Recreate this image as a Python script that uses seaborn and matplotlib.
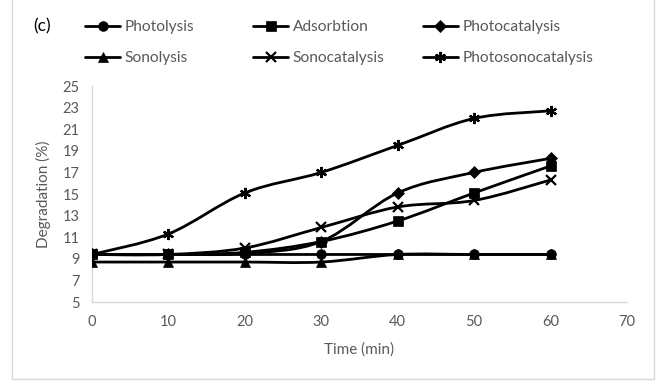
import matplotlib
matplotlib.use("Agg")
import matplotlib.pyplot as plt
import seaborn as sns
import pandas as pd
import numpy as np
from matplotlib.path import Path
from matplotlib.patches import PathPatch
from matplotlib.lines import Line2D

time = [0, 10, 20, 30, 40, 50, 60]
photolysis = [9.4, 9.4, 9.4, 9.4, 9.4, 9.4, 9.4]
adsorbtion = [9.4, 9.4, 9.6, 10.6, 12.5, 15.1, 17.6]
photocatalysis = [9.4, 9.4, 9.5, 10.6, 15.1, 17.0, 18.3]
sonolysis = [8.7, 8.7, 8.7, 8.7, 9.4, 9.4, 9.4]
sonocatalysis = [9.4, 9.4, 10.0, 11.9, 13.8, 14.4, 16.3]
photosonocatalysis = [9.4, 11.3, 15.1, 17.0, 19.5, 22.0, 22.7]

series = ["Photolysis", "Adsorbtion", "Photocatalysis",
          "Sonolysis", "Sonocatalysis", "Photosonocatalysis"]
values = [photolysis, adsorbtion, photocatalysis,
          sonolysis, sonocatalysis, photosonocatalysis]
markers = ["o", "s", "D", "^", "x", (6, 2, 0)]
msizes = [7, 7, 6, 7, 7, 8]

rows = []
for name, vals in zip(series, values):
    for t, v in zip(time, vals):
        rows.append({"Time": t, "Degradation": v, "Series": name})
df = pd.DataFrame(rows)

sns.set_style("white")
plt.rcParams["font.family"] = ["Lato", "DejaVu Sans"]
grey = "#595959"

fig = plt.figure(figsize=(6.59, 3.81), dpi=100)
ax = fig.add_axes([92 / 659, 79 / 381, 535 / 659, 216 / 381])


def smooth_path(xs, ys):
    """Excel-style smoothed line: cubic Bezier segments through the data points."""
    p = np.column_stack([xs, ys]).astype(float)
    n = len(p)
    verts = [p[0]]
    codes = [Path.MOVETO]
    for i in range(n - 1):
        p0 = p[i - 1] if i > 0 else p[i]
        p3 = p[i + 2] if i + 2 < n else p[i + 1]
        c1 = p[i] + (p[i + 1] - p0) / 6.0
        c2 = p[i + 1] - (p3 - p[i]) / 6.0
        verts += [c1, c2, p[i + 1]]
        codes += [Path.CURVE4] * 3
    return Path(verts, codes)


handles = []
for name, m, ms in zip(series, markers, msizes):
    sub = df[df["Series"] == name]
    mew = 1.6 if m in ("x", (6, 2, 0)) else 0.5
    sns.lineplot(data=sub, x="Time", y="Degradation", ax=ax, color="black",
                 linewidth=0, marker=m, markersize=ms, markeredgecolor="black",
                 markerfacecolor="black", markeredgewidth=mew,
                 legend=False, zorder=3)
    ax.add_patch(PathPatch(smooth_path(sub["Time"], sub["Degradation"]),
                           facecolor="none", edgecolor="black", linewidth=2,
                           zorder=2))
    handles.append(Line2D([], [], color="black", linewidth=2, marker=m,
                          markersize=ms, markerfacecolor="black",
                          markeredgecolor="black", markeredgewidth=mew))

ax.set_xlim(0, 70)
ax.set_ylim(5, 25)
ax.set_xticks(range(0, 71, 10))
ax.set_yticks(range(5, 26, 2))
ax.tick_params(axis="both", colors=grey, labelsize=10.5, length=0, pad=9)
for s in ["top", "right"]:
    ax.spines[s].set_visible(False)
for s in ["left", "bottom"]:
    ax.spines[s].set_color("#d9d9d9")
    ax.spines[s].set_linewidth(1)
ax.set_xlabel("Time (min)", color=grey, fontsize=11, labelpad=10)
ax.set_ylabel("Degradation (%)", color=grey, fontsize=11, labelpad=8)

# one legend column at a time, at the reference's column positions
col_x = [85, 253, 423]
for c in range(3):
    idx = [c, c + 3]
    fig.legend(handles=[handles[i] for i in idx], labels=[series[i] for i in idx],
               loc="upper left", ncol=1,
               bbox_to_anchor=(col_x[c] / 659, 1 - 20 / 381), frameon=False,
               fontsize=11.2, labelcolor=grey, handlelength=2.25,
               handletextpad=0.3, labelspacing=1.12,
               borderpad=0, borderaxespad=0)

fig.text(33 / 659, 1 - 26 / 381, "(c)", fontsize=12.5, color="black", va="center")

# chart-area border (left, right and bottom edges as in the reference)
W, H = 659, 381
for (x0, y0, x1, y1) in [(12, 0, 12, 379), (654, 0, 654, 379), (12, 379, 654, 379)]:
    fig.add_artist(Line2D([x0 / W, x1 / W], [1 - y0 / H, 1 - y1 / H],
                          transform=fig.transFigure, color="#d9d9d9", linewidth=1))

fig.savefig("out.png", dpi=100, facecolor="white")
